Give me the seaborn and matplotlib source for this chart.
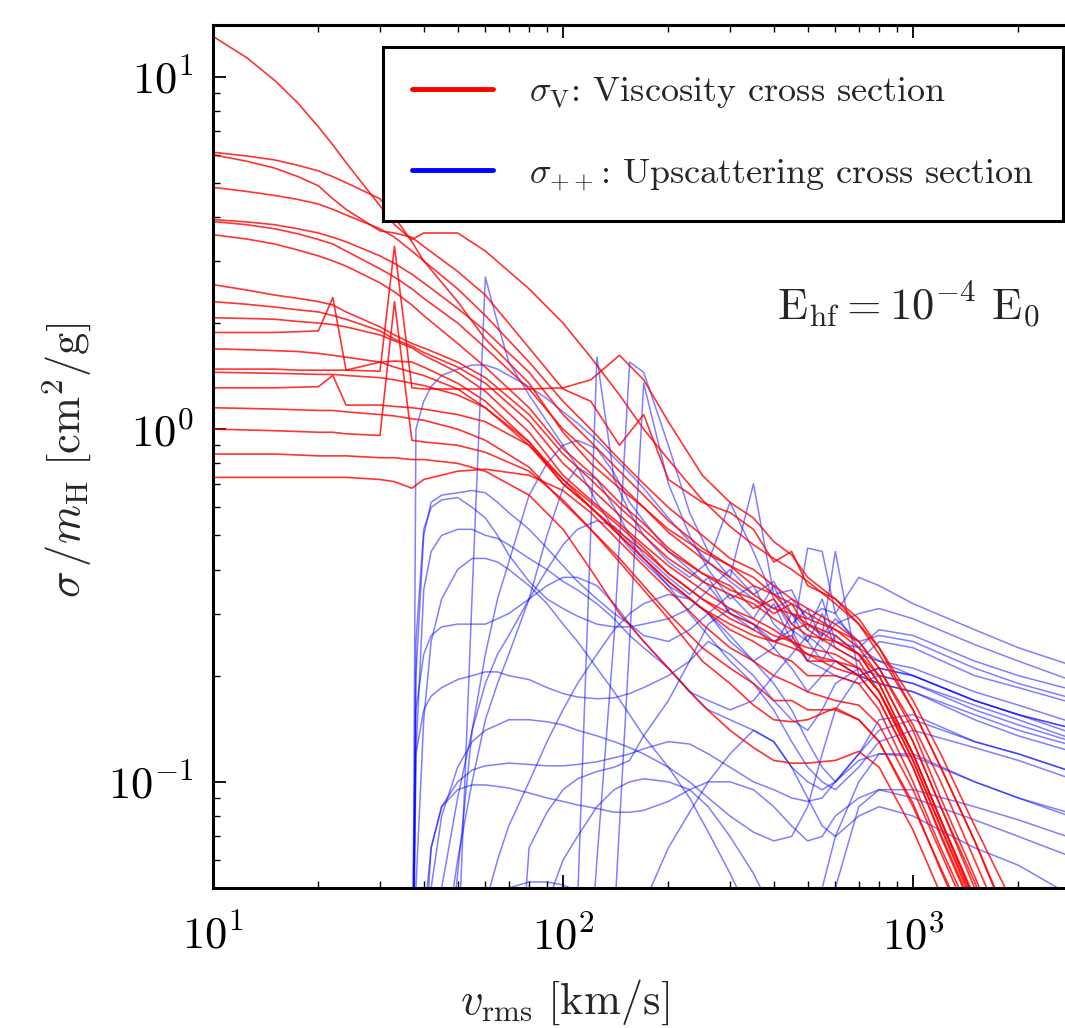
import matplotlib
matplotlib.use("Agg")
import numpy as np
import pandas as pd
import matplotlib.pyplot as plt
import seaborn as sns
from matplotlib.lines import Line2D
from matplotlib.ticker import NullFormatter, FixedLocator, LogLocator

# ---------------- data ----------------
L = 0.01  # below the visible range (curve enters from the bottom)

v_red = [10, 12.5, 15, 17.5, 20, 22, 24, 30, 33, 37, 40, 50, 60, 80, 100, 120, 145, 170, 200,
         250, 300, 350, 400, 450, 500, 600, 700, 800, 1000, 1200, 1500, 2000]

red_01 = [13.0, 11.3, 9.75, 8.4, 7.2, 6.4, 5.7, 4.3, 3.8, 3.45, 3.6, 3.6, 3.2, 2.5, 2.0, 1.6, 1.25, 1.0, 0.82, 0.63, 0.53, 0.47, 0.43, 0.40, 0.37, 0.32, 0.28, 0.24, 0.17, 0.12, 0.075, 0.042]
red_02 = [6.1, 5.95, 5.8, 5.6, 5.4, 5.2, 5.0, 4.5, 4.0, 3.4, 3.0, 2.3, 1.8, 1.35, 0.98, 0.8, 0.68, 0.6, 0.52, 0.45, 0.41, 0.36, 0.34, 0.32, 0.3, 0.27, 0.25, 0.21, 0.145, 0.1, 0.06, 0.031]
red_03 = [6.0, 5.75, 5.5, 5.2, 4.9, 4.5, 4.2, 3.65, 3.6, 3.5, 3.3, 2.8, 2.4, 1.7, 1.3, 1.2, 0.9, 1.1, 0.72, 0.62, 0.58, 0.52, 0.42, 0.45, 0.36, 0.33, 0.29, 0.24, 0.16, 0.11, 0.068, 0.034]
red_04 = [4.85, 4.72, 4.6, 4.48, 4.35, 4.2, 4.05, 3.7, 3.5, 3.2, 3.0, 2.5, 2.1, 1.55, 1.2, 1.0, 0.82, 0.7, 0.6, 0.5, 0.43, 0.4, 0.36, 0.33, 0.31, 0.28, 0.25, 0.21, 0.14, 0.09, 0.054, 0.027]
red_05 = [3.93, 3.87, 3.8, 3.7, 3.6, 3.5, 3.4, 3.1, 2.95, 2.75, 2.6, 2.2, 1.9, 1.45, 1.1, 0.92, 0.76, 0.65, 0.55, 0.46, 0.41, 0.38, 0.34, 0.3, 0.29, 0.27, 0.24, 0.2, 0.13, 0.085, 0.05, 0.025]
red_06 = [3.88, 3.8, 3.7, 3.58, 3.45, 3.35, 3.2, 2.85, 2.7, 2.5, 2.35, 2.0, 1.7, 1.3, 1.0, 0.85, 0.7, 0.6, 0.51, 0.43, 0.38, 0.34, 0.31, 0.3, 0.28, 0.26, 0.23, 0.19, 0.12, 0.078, 0.046, 0.023]
red_07 = [3.56, 3.46, 3.35, 3.22, 3.1, 3.0, 2.9, 2.6, 2.45, 2.25, 2.1, 1.75, 1.5, 1.15, 0.88, 0.75, 0.62, 0.54, 0.46, 0.39, 0.35, 0.33, 0.3, 0.32, 0.27, 0.24, 0.22, 0.18, 0.115, 0.074, 0.044, 0.021]
red_08 = [2.57, 2.48, 2.4, 2.35, 2.3, 2.25, 2.15, 1.95, 1.85, 1.75, 1.7, 1.55, 1.4, 1.1, 0.85, 0.72, 0.6, 0.52, 0.45, 0.39, 0.36, 0.31, 0.33, 0.28, 0.26, 0.25, 0.23, 0.19, 0.12, 0.078, 0.046, 0.023]
red_09 = [2.30, 2.26, 2.22, 2.18, 2.15, 2.1, 2.05, 1.9, 1.8, 1.72, 1.65, 1.5, 1.35, 1.05, 0.8, 0.68, 0.57, 0.5, 0.43, 0.37, 0.34, 0.32, 0.29, 0.27, 0.28, 0.25, 0.23, 0.2, 0.13, 0.085, 0.052, 0.026]
red_10 = [2.07, 2.06, 2.05, 2.02, 2.0, 1.98, 1.95, 1.85, 1.78, 1.7, 1.62, 1.45, 1.28, 0.98, 0.74, 0.63, 0.54, 0.47, 0.41, 0.35, 0.31, 0.29, 0.27, 0.25, 0.24, 0.23, 0.21, 0.18, 0.115, 0.075, 0.045, 0.022]
red_11 = [1.88, 1.88, 1.88, 1.89, 1.9, 2.36, 1.47, 1.55, 1.56, 1.55, 1.5, 1.35, 1.2, 0.92, 0.7, 0.6, 0.51, 0.45, 0.39, 0.33, 0.3, 0.28, 0.26, 0.25, 0.23, 0.21, 0.2, 0.17, 0.11, 0.07, 0.042, 0.021]
red_12 = [1.69, 1.68, 1.67, 1.66, 1.64, 1.62, 1.6, 1.55, 1.5, 1.45, 1.42, 1.3, 1.15, 0.9, 0.7, 0.6, 0.5, 0.43, 0.37, 0.31, 0.28, 0.26, 0.25, 0.26, 0.22, 0.22, 0.2, 0.17, 0.11, 0.071, 0.043, 0.021]
red_13 = [1.48, 1.48, 1.48, 1.47, 1.47, 1.47, 1.47, 1.46, 3.3, 1.31, 1.3, 1.3, 1.3, 1.3, 1.31, 1.38, 1.62, 1.38, 1.05, 0.74, 0.62, 0.56, 0.48, 0.44, 0.38, 0.33, 0.28, 0.23, 0.16, 0.11, 0.068, 0.035]
red_14 = [1.45, 1.445, 1.44, 1.435, 1.43, 1.43, 1.42, 1.4, 1.38, 1.35, 1.33, 1.25, 1.15, 0.92, 0.72, 0.62, 0.53, 0.46, 0.39, 0.33, 0.29, 0.27, 0.25, 0.24, 0.23, 0.22, 0.21, 0.18, 0.12, 0.078, 0.047, 0.023]
red_15 = [1.31, 1.31, 1.31, 1.315, 1.32, 1.42, 1.17, 1.17, 1.16, 1.15, 1.14, 1.1, 1.05, 0.9, 0.72, 0.6, 0.5, 0.43, 0.37, 0.31, 0.27, 0.25, 0.23, 0.22, 0.2, 0.2, 0.19, 0.16, 0.1, 0.065, 0.04, 0.02]
red_16 = [1.15, 1.145, 1.14, 1.135, 1.13, 1.13, 1.12, 1.1, 1.09, 1.07, 1.06, 1.0, 0.93, 0.78, 0.62, 0.52, 0.43, 0.36, 0.3, 0.24, 0.21, 0.19, 0.17, 0.17, 0.16, 0.16, 0.15, 0.13, 0.085, 0.057, 0.035, 0.017]
red_17 = [1.0, 0.995, 0.99, 0.985, 0.98, 0.98, 0.97, 0.96, 2.3, 0.93, 0.92, 0.9, 0.86, 0.76, 0.63, 0.52, 0.42, 0.35, 0.29, 0.22, 0.19, 0.165, 0.15, 0.148, 0.15, 0.162, 0.15, 0.13, 0.087, 0.056, 0.034, 0.017]
red_18 = [0.85, 0.85, 0.85, 0.845, 0.84, 0.84, 0.84, 0.83, 0.83, 0.82, 0.82, 0.8, 0.76, 0.65, 0.52, 0.4, 0.3, 0.25, 0.21, 0.165, 0.14, 0.125, 0.115, 0.113, 0.113, 0.115, 0.122, 0.11, 0.073, 0.048, 0.03, 0.015]
red_19 = [0.73, 0.73, 0.73, 0.73, 0.73, 0.73, 0.73, 0.72, 0.71, 0.68, 0.72, 0.76, 0.77, 0.74, 0.67, 0.58, 0.48, 0.41, 0.35, 0.28, 0.24, 0.22, 0.2, 0.19, 0.18, 0.17, 0.165, 0.145, 0.095, 0.063, 0.038, 0.019]

v_blue = [37, 38, 40, 42, 45, 50, 55, 60, 65, 70, 80, 90, 100, 110, 125, 140, 155, 170,
          200, 230, 260, 300, 350, 400, 450, 500, 550, 600, 700, 800, 1000, 1500, 2000, 3000]

blue_01 = [L, 1.0, 1.2, 1.32, 1.42, 1.48, 1.52, 1.52, 1.48, 1.42, 1.32, 1.22, 1.12, 1.04, 0.93, 0.83, 0.75, 0.68, 0.56, 0.48, 0.42, 0.37, 0.33, 0.31, 0.33, 0.29, 0.31, 0.3, 0.38, 0.36, 0.32, 0.27, 0.24, 0.21]
blue_02 = [L, 0.2, 0.5, 0.62, 0.65, 0.66, 0.67, 0.66, 0.62, 0.58, 0.52, 0.46, 0.41, 0.37, 0.33, 0.3, 0.28, 0.26, 0.25, 0.27, 0.3, 0.34, 0.29, 0.36, 0.28, 0.31, 0.25, 0.28, 0.3, 0.31, 0.29, 0.245, 0.22, 0.19]
blue_03 = [L, 0.12, 0.35, 0.45, 0.5, 0.52, 0.52, 0.5, 0.49, 0.47, 0.43, 0.4, 0.37, 0.35, 0.32, 0.29, 0.26, 0.24, 0.21, 0.18, 0.16, 0.15, 0.14, 0.13, 0.11, 0.1, 0.095, 0.1, 0.12, 0.14, 0.15, 0.13, 0.12, 0.105]
blue_04 = [0.03, 0.16, 0.23, 0.26, 0.275, 0.28, 0.28, 0.28, 0.29, 0.3, 0.33, 0.36, 0.38, 0.38, 0.36, 0.32, 0.28, 0.25, 0.21, 0.18, 0.17, 0.16, 0.17, 0.2, 0.23, 0.26, 0.24, 0.22, 0.2, 0.19, 0.18, 0.15, 0.135, 0.12]
blue_05 = [0.02, 0.12, 0.16, 0.175, 0.185, 0.195, 0.2, 0.205, 0.205, 0.2, 0.195, 0.185, 0.178, 0.174, 0.172, 0.173, 0.178, 0.185, 0.2, 0.22, 0.25, 0.23, 0.2, 0.17, 0.15, 0.14, 0.16, 0.19, 0.21, 0.2, 0.19, 0.165, 0.15, 0.13]
blue_06 = [L, L, 0.04, 0.065, 0.085, 0.1, 0.108, 0.111, 0.112, 0.113, 0.112, 0.111, 0.111, 0.112, 0.114, 0.117, 0.12, 0.124, 0.13, 0.128, 0.12, 0.11, 0.1, 0.095, 0.09, 0.088, 0.09, 0.1, 0.115, 0.12, 0.118, 0.1, 0.09, 0.078]
blue_07 = [L, L, 0.03, 0.065, 0.085, 0.095, 0.098, 0.098, 0.097, 0.096, 0.093, 0.09, 0.088, 0.086, 0.084, 0.082, 0.082, 0.083, 0.088, 0.095, 0.1, 0.1, 0.095, 0.085, 0.075, 0.068, 0.07, 0.08, 0.09, 0.095, 0.09, 0.078, 0.07, 0.06]
blue_08 = [L, L, L, L, L, 0.03, 0.34, 2.7, 2.0, 1.55, 1.25, 1.05, 0.9, 0.78, 0.62, 0.52, 0.46, 0.42, 0.36, 0.33, 0.3, 0.25, 0.22, 0.24, 0.21, 0.18, 0.2, 0.22, 0.2, 0.19, 0.18, 0.155, 0.14, 0.125]
blue_09 = [L, L, L, L, 0.02, 0.055, 0.14, 0.23, 0.33, 0.42, 0.65, 0.8, 0.9, 0.93, 0.88, 0.75, 0.62, 0.55, 0.45, 0.4, 0.36, 0.3, 0.28, 0.25, 0.27, 0.22, 0.21, 0.2, 0.19, 0.2, 0.19, 0.16, 0.145, 0.128]
blue_10 = [L, L, L, L, L, L, L, L, L, L, L, L, L, 0.045, 1.6, 0.72, 0.58, 0.5, 0.42, 0.38, 0.42, 0.62, 0.45, 0.33, 0.27, 0.25, 0.3, 0.24, 0.22, 0.25, 0.24, 0.2, 0.185, 0.165]
blue_11 = [L, L, L, L, L, L, L, L, L, L, L, L, L, L, 0.06, 0.26, 1.55, 1.45, 0.9, 0.58, 0.45, 0.38, 0.7, 0.34, 0.35, 0.28, 0.26, 0.29, 0.25, 0.26, 0.25, 0.21, 0.19, 0.17]
blue_12 = [L, L, L, L, L, L, L, L, L, L, L, L, L, L, L, 0.04, 0.25, 1.35, 0.7, 0.5, 0.4, 0.33, 0.36, 0.28, 0.25, 0.46, 0.45, 0.3, 0.24, 0.22, 0.2, 0.17, 0.155, 0.14]
blue_13 = [L, L, L, L, L, L, L, L, L, L, 0.065, 0.082, 0.095, 0.102, 0.107, 0.11, 0.115, 0.135, 0.17, 0.22, 0.28, 0.31, 0.28, 0.24, 0.3, 0.25, 0.22, 0.26, 0.23, 0.22, 0.21, 0.18, 0.165, 0.145]
blue_14 = [L, L, L, L, L, L, L, 0.045, 0.06, 0.075, 0.1, 0.13, 0.16, 0.19, 0.23, 0.27, 0.3, 0.32, 0.34, 0.33, 0.3, 0.26, 0.22, 0.19, 0.16, 0.13, 0.11, 0.1, 0.12, 0.15, 0.155, 0.13, 0.12, 0.105]
blue_15 = [L, 0.05, 0.15, 0.25, 0.33, 0.4, 0.43, 0.43, 0.42, 0.4, 0.36, 0.32, 0.28, 0.25, 0.21, 0.18, 0.155, 0.135, 0.11, 0.09, 0.072, 0.055, 0.04, 0.03, 0.025, 0.03, 0.05, 0.07, 0.1, 0.12, 0.12, 0.1, 0.09, 0.08]
blue_16 = [L, L, L, L, L, L, L, L, L, L, L, 0.045, 0.06, 0.07, 0.085, 0.095, 0.1, 0.102, 0.1, 0.095, 0.085, 0.07, 0.055, 0.042, 0.035, 0.03, 0.035, 0.05, 0.085, 0.095, 0.095, 0.085, 0.078, 0.068]
blue_17 = [L, L, L, L, L, L, L, 0.046, 0.048, 0.05, 0.052, 0.052, 0.051, 0.049, 0.045, 0.04, 0.035, L, L, L, L, L, L, L, L, L, L, L, L, L, L, L, L, L]
blue_18 = [L, 0.25, 0.52, 0.6, 0.63, 0.64, 0.6, 0.56, 0.5, 0.44, 0.37, 0.33, 0.31, 0.295, 0.28, 0.275, 0.275, 0.28, 0.29, 0.31, 0.35, 0.4, 0.34, 0.37, 0.3, 0.27, 0.33, 0.25, 0.24, 0.27, 0.26, 0.22, 0.2, 0.18]
blue_19 = [L, L, L, L, 0.05, 0.09, 0.14, 0.19, 0.23, 0.26, 0.33, 0.4, 0.47, 0.52, 0.55, 0.53, 0.48, 0.43, 0.36, 0.3, 0.26, 0.22, 0.19, 0.16, 0.13, 0.11, 0.1, 0.095, 0.11, 0.13, 0.14, 0.125, 0.115, 0.1]
blue_20 = [L, L, L, L, 0.03, 0.06, 0.1, 0.15, 0.19, 0.23, 0.33, 0.5, 0.68, 0.78, 0.72, 0.6, 0.5, 0.44, 0.38, 0.34, 0.38, 0.3, 0.27, 0.32, 0.25, 0.22, 0.26, 0.45, 0.2, 0.21, 0.2, 0.17, 0.155, 0.14]
blue_21 = [L, L, L, L, L, L, L, L, L, L, L, L, L, L, L, L, L, 0.045, 0.065, 0.082, 0.1, 0.12, 0.14, 0.13, 0.11, 0.09, 0.075, 0.07, 0.08, 0.085, 0.08, 0.065, 0.058, 0.046]
blue_22 = [L, L, 0.02, 0.05, 0.08, 0.11, 0.13, 0.14, 0.145, 0.15, 0.15, 0.148, 0.145, 0.14, 0.135, 0.13, 0.125, 0.12, 0.11, 0.1, 0.09, 0.08, 0.072, 0.068, 0.07, 0.085, 0.12, 0.16, 0.2, 0.21, 0.2, 0.17, 0.155, 0.135]

red_curves = [red_01, red_02, red_03, red_04, red_05, red_06, red_07, red_08, red_09, red_10,
              red_11, red_12, red_13, red_14, red_15, red_16, red_17, red_18, red_19]
blue_curves = [blue_01, blue_02, blue_03, blue_04, blue_05, blue_06, blue_07, blue_08, blue_09, blue_10,
               blue_11, blue_12, blue_13, blue_14, blue_15, blue_16, blue_17, blue_18, blue_19, blue_20,
               blue_21, blue_22]

x_ticks = [10, 100, 1000]
x_ticklabels = [r"$10^{1}$", r"$10^{2}$", r"$10^{3}$"]
y_ticks = [0.1, 1, 10]
y_ticklabels = [r"$10^{-1}$", r"$10^{0}$", r"$10^{1}$"]

label_red = r"$\sigma_{\mathrm{V}}$: Viscosity cross section"
label_blue = r"$\sigma_{++}$: Upscattering cross section"
annotation = r"$\mathrm{E_{hf}}=10^{-4}\ \mathrm{E_0}$"
x_label = r"$v_{\mathrm{rms}}\ [\mathrm{km/s}]$"
y_label = r"$\sigma\,/m_{\mathrm{H}}\ [\mathrm{cm}^2/\mathrm{g}]$"


def long_form(vgrid, curves, kind):
    rows = []
    for i, c in enumerate(curves):
        for v, s in zip(vgrid, c):
            rows.append((v, s, f"{kind}{i}"))
    return pd.DataFrame(rows, columns=["v", "s", "curve"])


df_red = long_form(v_red, red_curves, "r")
df_blue = long_form(v_blue, blue_curves, "b")

# ---------------- style ----------------
sns.set_theme(style="ticks")
plt.rcParams.update({
    "mathtext.fontset": "cm",
    "font.family": ["cmr10", "DejaVu Sans"],
    "axes.formatter.use_mathtext": True,
    "axes.unicode_minus": False,
})

fig = plt.figure(figsize=(10.65, 10.28), dpi=100)
ax = fig.add_axes([0.2, 0.1362, 0.8141, 0.8395])
ax.set_xscale("log")
ax.set_yscale("log")

sns.lineplot(data=df_blue, x="v", y="s", units="curve", estimator=None, sort=False,
             color="#0000ff", alpha=0.5, linewidth=1.1, ax=ax, legend=False)
sns.lineplot(data=df_red, x="v", y="s", units="curve", estimator=None, sort=False,
             color="#ff0000", alpha=0.8, linewidth=1.2, ax=ax, legend=False)

ax.set_xlim(10, 3000)
ax.set_ylim(0.05, 14)

ax.xaxis.set_major_locator(FixedLocator(x_ticks))
ax.set_xticklabels(x_ticklabels)
ax.yaxis.set_major_locator(FixedLocator(y_ticks))
ax.set_yticklabels(y_ticklabels)
ax.xaxis.set_minor_locator(LogLocator(base=10, subs=np.arange(2, 10), numticks=20))
ax.yaxis.set_minor_locator(LogLocator(base=10, subs=np.arange(2, 10), numticks=20))
ax.xaxis.set_minor_formatter(NullFormatter())
ax.yaxis.set_minor_formatter(NullFormatter())

ax.tick_params(which="both", direction="in", top=True, right=True, colors="black")
ax.tick_params(which="major", length=9.5, width=1.3, labelsize=32)
ax.tick_params(axis="x", which="major", pad=20)
ax.tick_params(axis="y", which="major", pad=14)
ax.tick_params(which="minor", length=5, width=1.0)
for sp in ax.spines.values():
    sp.set_linewidth(2.2)
    sp.set_color("black")

ax.set_xlabel(x_label, fontsize=32)
ax.set_ylabel(y_label, fontsize=32)
ax.xaxis.set_label_coords(0.406, -0.104)
ax.yaxis.set_label_coords(-0.137, 0.495)

handles = [Line2D([], [], color="#ff0000", lw=3.5), Line2D([], [], color="#0000ff", lw=3.5)]
leg = ax.legend(handles, [label_red, label_blue], loc="upper left",
                bbox_to_anchor=(383 / 1065, 1 - 46.5 / 1028), bbox_transform=fig.transFigure,
                fontsize=26, frameon=True, fancybox=False, edgecolor="black", framealpha=1,
                borderpad=0.8, handlelength=2.25, handletextpad=1.0, labelspacing=1.3,
                borderaxespad=0)
leg.get_frame().set_linewidth(2.2)

fig.text(908 / 1065, 1 - 305 / 1028, annotation, ha="center", va="center", fontsize=32)

fig.savefig("out.png", dpi=100)
